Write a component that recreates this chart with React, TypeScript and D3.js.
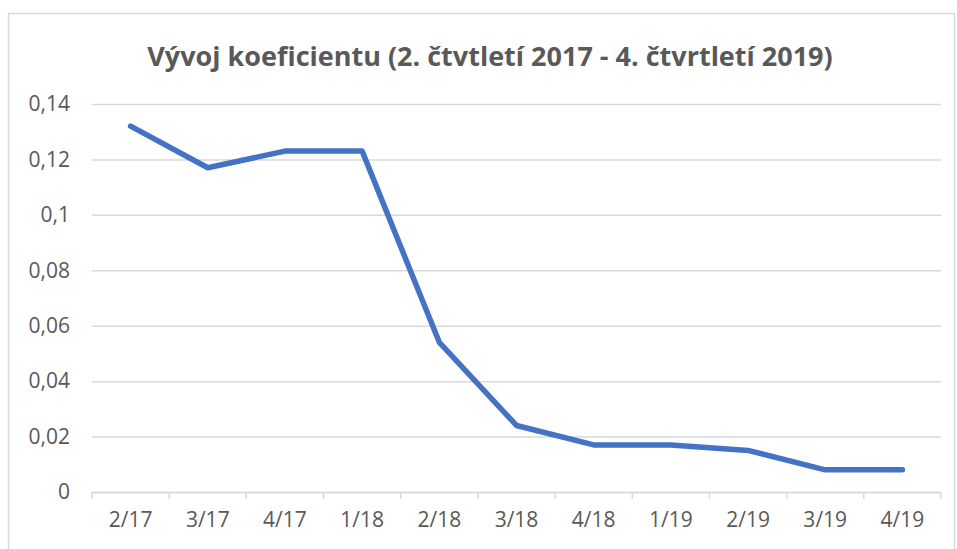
import React, { useRef, useEffect } from "react";
import { select, scaleBand, scaleLinear, line, axisLeft, axisBottom } from "d3";

// Chart data
const categories = ["2/17", "3/17", "4/17", "1/18", "2/18", "3/18", "4/18", "1/19", "2/19", "3/19", "4/19"];
const values = [0.132, 0.117, 0.123, 0.123, 0.054, 0.024, 0.017, 0.017, 0.015, 0.008, 0.008];
const yTicks = [0, 0.02, 0.04, 0.06, 0.08, 0.1, 0.12, 0.14];
const title = "Vývoj koeficientu (2. čtvtletí 2017 - 4. čtvrtletí 2019)";

const W = 957, H = 549;
const plot = { left: 92, right: 941, top: 104, bottom: 492 };
const font = "'Open Sans', sans-serif";
const textColor = "#595959";

const fmt = (v: number) => String(v).replace(".", ",");

export default function App() {
  const svgRef = useRef<SVGSVGElement>(null);

  useEffect(() => {
    const svg = select(svgRef.current);
    svg.selectAll("*").remove();

    const x = scaleBand<string>().domain(categories).range([plot.left, plot.right]);
    const y = scaleLinear().domain([0, 0.14]).range([plot.bottom, plot.top]);

    // frame
    svg.append("rect")
      .attr("x", 8.5).attr("y", 13.5)
      .attr("width", 946).attr("height", 560)
      .attr("fill", "#fff").attr("stroke", "#d9d9d9").attr("stroke-width", 1.5);

    // title
    svg.append("text")
      .attr("x", 490).attr("y", 66)
      .attr("text-anchor", "middle")
      .attr("font-family", font).attr("font-size", 27).attr("font-weight", "bold")
      .attr("fill", textColor)
      .text(title);

    // gridlines + y labels
    const gy = svg.append("g").attr("transform", `translate(${plot.left},0)`)
      .call(axisLeft(y).tickValues(yTicks).tickSize(-(plot.right - plot.left)).tickPadding(22).tickFormat((d) => fmt(+d)));
    gy.select(".domain").remove();
    gy.selectAll(".tick line").attr("stroke", "#d9d9d9").attr("stroke-width", 1.5);
    gy.selectAll(".tick text").attr("font-family", font).attr("font-size", 21).attr("fill", textColor);

    // x axis
    const gx = svg.append("g").attr("transform", `translate(0,${plot.bottom})`)
      .call(axisBottom(x).tickSize(0).tickPadding(20));
    gx.select(".domain").attr("stroke", "#d9d9d9").attr("stroke-width", 1.5);
    gx.selectAll(".tick text").attr("font-family", font).attr("font-size", 21).attr("fill", textColor);
    // boundary ticks between categories
    const edges = categories.map((c) => x(c) as number).concat([plot.right]);
    svg.append("g").selectAll("line").data(edges).join("line")
      .attr("x1", (d) => d).attr("x2", (d) => d)
      .attr("y1", plot.bottom).attr("y2", plot.bottom + 7)
      .attr("stroke", "#d9d9d9").attr("stroke-width", 1.5);

    // series line
    const gen = line<number>()
      .x((_, i) => (x(categories[i]) as number) + x.bandwidth() / 2)
      .y((d) => y(d));
    svg.append("path")
      .datum(values)
      .attr("d", gen)
      .attr("fill", "none")
      .attr("stroke", "#4472C4")
      .attr("stroke-width", 5.5)
      .attr("stroke-linecap", "round")
      .attr("stroke-linejoin", "round");
  }, []);

  return (
    <svg ref={svgRef} width={W} height={H}
      style={{ position: "absolute", left: 0, top: 0, background: "#fff" }} />
  );
}
